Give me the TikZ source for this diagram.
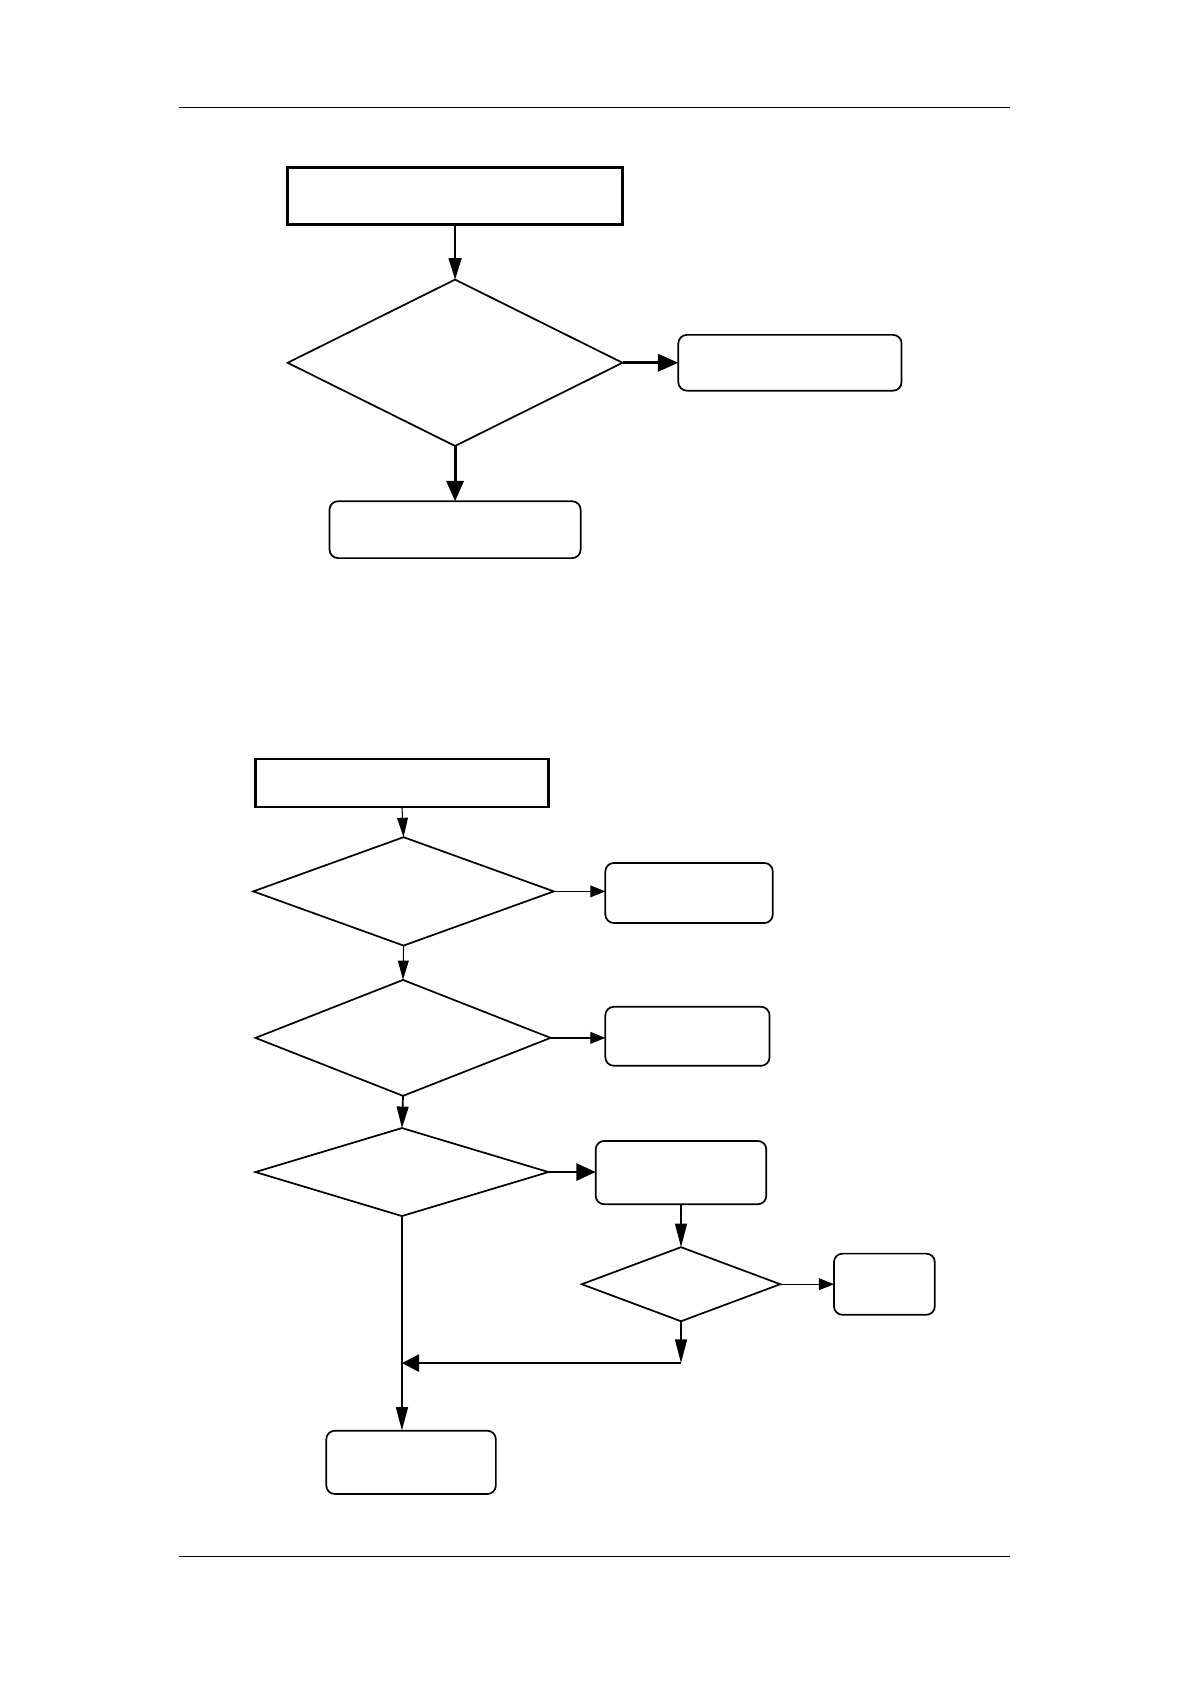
\documentclass[tikz,border=0pt]{standalone}
\usepackage{tikz}
\usetikzlibrary{shapes.geometric,arrows.meta}

\begin{document}
\begin{tikzpicture}[x=0.5pt,y=-0.5pt,
    every node/.style={inner sep=0pt,outer sep=0pt},
    plainbox/.style={draw,rectangle,line width=1.1pt},
    roundbox/.style={draw,rectangle,rounded corners=4pt,line width=0.8pt},
    choice/.style={draw,diamond,line width=0.8pt},
    link/.style={line width=0.6pt,-{Triangle[length=7pt,width=5.5pt]}},
    boldlink/.style={line width=1.4pt,-{Triangle[length=9.5pt,width=8pt]}}]
    \useasboundingbox (0,0) rectangle (1109,1569);
    % page rules
    \draw [line width=0.6pt] (167,100) -- (941,100);
    \draw [line width=0.6pt] (167,1450) -- (941,1450);

    % first chart
    \node [plainbox,minimum width=156pt,minimum height=26.5pt] (start1) at (424,182.5) {};
    \node [choice,minimum width=156pt,minimum height=77.5pt] (test1) at (424,338) {};
    \node [roundbox,minimum width=104pt,minimum height=26pt] (yes1) at (736,338) {};
    \node [roundbox,minimum width=117pt,minimum height=26.5pt] (no1) at (424,493.5) {};
    \draw [link,line width=0.8pt,-{Triangle[length=10pt,width=6pt]}] (start1.south) -- (test1.north);
    \draw [boldlink] (test1.east) -- (yes1.west);
    \draw [boldlink] (test1.south) -- (no1.north);

    % second chart
    \node [plainbox,minimum width=136.5pt,minimum height=22.5pt] (start2) at (374.5,729.5) {};
    \node [choice,minimum width=140pt,minimum height=50.5pt] (testa) at (376,830.5) {};
    \node [roundbox,minimum width=78pt,minimum height=28pt] (outa) at (642,832) {};
    \node [choice,minimum width=137.5pt,minimum height=54pt] (testb) at (375.5,967) {};
    \node [roundbox,minimum width=76.5pt,minimum height=27.5pt] (outb) at (640.5,965.5) {};
    \node [choice,minimum width=136.5pt,minimum height=41pt] (testc) at (374.5,1092) {};
    \node [roundbox,minimum width=79.5pt,minimum height=29.5pt] (stepc) at (634.5,1092.5) {};
    \node [choice,minimum width=92.5pt,minimum height=34.5pt] (testd) at (634.5,1196.5) {};
    \node [roundbox,minimum width=47pt,minimum height=28.5pt] (outd) at (824,1196.5) {};
    \node [roundbox,minimum width=79pt,minimum height=29.5pt] (finish) at (383,1362.5) {};
    \coordinate (back) at (634.5,1270);

    \draw [link,line width=0.5pt,-{Triangle[length=9pt,width=5pt]}] (start2.south) -- (testa.north);
    \draw [link,line width=0.5pt] (testa.east) -- (testa.east -| outa.west);
    \draw [link,line width=0.5pt,-{Triangle[length=9pt,width=5pt]}] (testa.south) -- (testb.north);
    \draw [link] (testb.east) -- (testb.east -| outb.west);
    \draw [link,line width=0.8pt,-{Triangle[length=10pt,width=5.5pt]}] (testb.south) -- (testc.north);
    \draw [boldlink,line width=1pt,-{Triangle[length=9pt,width=8pt]}] (testc.east) -- (testc.east -| stepc.west);
    \draw [link,line width=1pt,-{Triangle[length=11pt,width=5.5pt]}] (stepc.south) -- (testd.north);
    \draw [link] (testd.east) -- (testd.east -| outd.west);
    \draw [link,line width=0.8pt,-{Triangle[length=11pt,width=5.5pt]}] (testd.south) -- (back);
    \draw [boldlink,line width=1.2pt,-{Triangle[length=8pt,width=8pt]}] (back) -- (back -| testc.south);
    \draw [link,line width=1pt,-{Triangle[length=11pt,width=5.5pt]}] (testc.south) -- (testc.south |- finish.north);
\end{tikzpicture}
\end{document}
